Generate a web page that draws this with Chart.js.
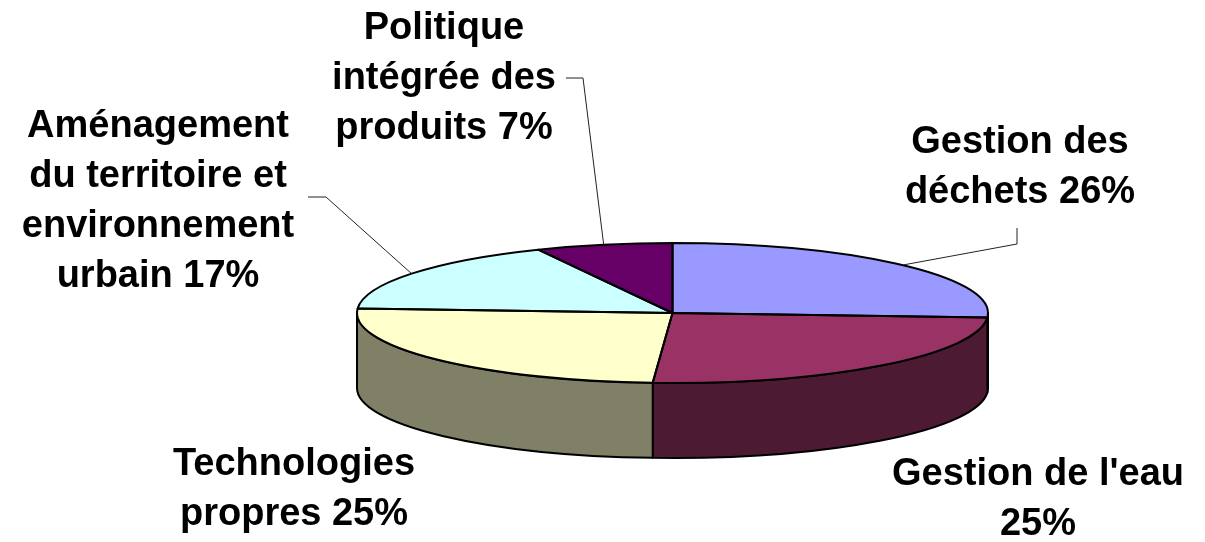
<!DOCTYPE html>
<html>
<head>
<meta charset="utf-8">
<script src="https://cdn.jsdelivr.net/npm/chart.js@4.4.1/dist/chart.umd.min.js"></script>
<style>
    body { margin: 0; background: #ffffff; }
    canvas { display: block; }
</style>
</head>
<body>
<canvas id="pieChart" width="1205" height="542"></canvas>
<script>
// data
const categories = [
    ['Gestion des', 'déchets'],
    ["Gestion de l'eau", ''],
    ['Technologies', 'propres'],
    ['Aménagement', 'du territoire et', 'environnement', 'urbain'],
    ['Politique', 'intégrée des', 'produits']
];
const shares = [26, 25, 25, 17, 7];

// colours: top face / side wall
const topColors = ['#9999FF', '#993366', '#FFFFCC', '#CCFFFF', '#660066'];
const sideColors = ['#4D4D80', '#4D1A33', '#808066', '#668080', '#330033'];

// 3d look
const TILT = 70 / 315.5;
const DEPTH = 75;

// label placement: centre x, first line y, leader line bends
const labelPos = [
    { x: 1020, y: 143, bend: [[1017, 244], [1017, 228]] },
    { x: 1038, y: 475, bend: null },
    { x: 294, y: 465, bend: null },
    { x: 158, y: 127, bend: [[326, 197], [308, 197]] },
    { x: 444, y: 29, bend: [[583, 78], [566, 78]] }
];

const pie3d = {
    id: 'pie3d',
    beforeDatasetsDraw(chart) {
        const ctx = chart.ctx;
        const arcs = chart.getDatasetMeta(0).data;
        const { x, y, outerRadius: rx } = arcs[0];
        const ry = rx * TILT;

        // side walls (front half only)
        ctx.save();
        ctx.lineWidth = 2;
        ctx.strokeStyle = '#000';
        ctx.lineJoin = 'round';
        arcs.forEach((arc, i) => {
            const s = Math.max(arc.startAngle, 0);
            const e = Math.min(arc.endAngle, Math.PI);
            if (s >= e) return;
            ctx.beginPath();
            ctx.ellipse(x, y, rx, ry, 0, s, e);
            ctx.lineTo(x + rx * Math.cos(e), y + DEPTH + ry * Math.sin(e));
            ctx.ellipse(x, y + DEPTH, rx, ry, 0, e, s, true);
            ctx.closePath();
            ctx.fillStyle = sideColors[i];
            ctx.fill();
            ctx.stroke();
        });
        ctx.restore();

        // squash the circle so chart.js draws the top faces as an ellipse
        ctx.save();
        ctx.translate(x, y);
        ctx.scale(1, TILT);
        ctx.translate(-x, -y);
    },
    afterDatasetsDraw(chart) {
        const ctx = chart.ctx;
        ctx.restore();

        const arcs = chart.getDatasetMeta(0).data;
        const { x, y, outerRadius: rx } = arcs[0];
        const ry = rx * TILT;

        ctx.save();
        ctx.lineWidth = 2;
        ctx.strokeStyle = '#000';
        ctx.lineJoin = 'round';
        arcs.forEach(arc => {
            ctx.beginPath();
            ctx.moveTo(x, y);
            ctx.ellipse(x, y, rx, ry, 0, arc.startAngle, arc.endAngle);
            ctx.closePath();
            ctx.stroke();
        });

        // leader lines
        ctx.lineWidth = 1;
        ctx.strokeStyle = '#222';
        arcs.forEach((arc, i) => {
            const bend = labelPos[i].bend;
            if (!bend) return;
            const mid = (arc.startAngle + arc.endAngle) / 2;
            ctx.beginPath();
            ctx.moveTo(x + rx * Math.cos(mid), y + ry * Math.sin(mid));
            bend.forEach(p => ctx.lineTo(p[0], p[1]));
            ctx.stroke();
        });
        ctx.restore();
    },
    afterDraw(chart) {
        const ctx = chart.ctx;
        ctx.save();
        ctx.font = 'bold 38px "Liberation Sans", Arial, sans-serif';
        ctx.fillStyle = '#000';
        ctx.textAlign = 'center';
        ctx.textBaseline = 'middle';
        categories.forEach((cat, i) => {
            const lines = cat.slice();
            const last = lines.length - 1;
            lines[last] = (lines[last] + ' ' + shares[i] + '%').trim();
            lines.forEach((line, j) => {
                ctx.fillText(line, labelPos[i].x, labelPos[i].y + j * 50);
            });
        });
        ctx.restore();
    }
};

const ctx = document.getElementById('pieChart').getContext('2d');

new Chart(ctx, {
    type: 'pie',
    data: {
        labels: categories.map(c => c.join(' ').trim()),
        datasets: [{
            data: shares,
            backgroundColor: topColors,
            borderWidth: 0
        }]
    },
    options: {
        responsive: false,
        devicePixelRatio: 1,
        animation: false,
        events: [],
        radius: 315.5,
        layout: {
            padding: { left: 140, right: 0, top: 84, bottom: 0 }
        },
        plugins: {
            legend: { display: false },
            tooltip: { enabled: false }
        }
    },
    plugins: [pie3d]
});
</script>
</body>
</html>
